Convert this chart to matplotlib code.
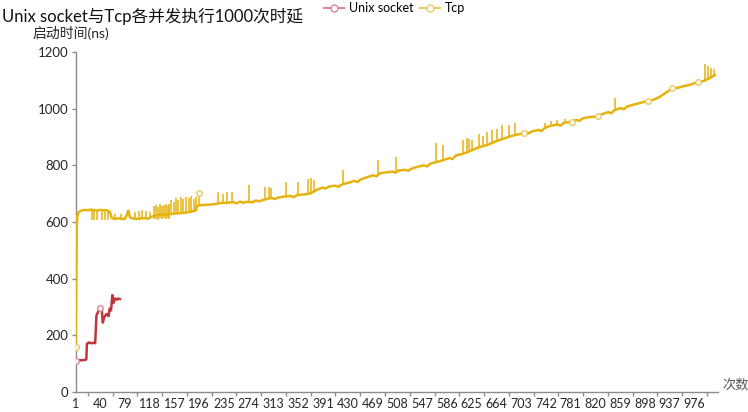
import matplotlib.pyplot as plt
from matplotlib.lines import Line2D

plt.rcParams['font.family'] = ['Lato', 'Noto Sans CJK SC', 'DejaVu Sans']

# Unix socket: only the first ~70 runs are visible
unix_x = [1, 5, 10, 15, 18, 19, 22, 26, 30, 32, 34, 37, 40, 42, 44, 46, 48, 50, 53, 55, 57, 59, 61, 63, 66, 68, 71]
unix_y = [110, 112, 112, 113, 115, 170, 175, 172, 174, 172, 270, 285, 298, 300, 245, 262, 270, 275, 268, 295, 288, 342, 315, 330, 326, 330, 328]

# Tcp baseline
tcp_x = [1, 2, 3, 4, 6, 10, 15, 20, 25, 30, 35, 40, 45, 50, 55, 58, 62, 70, 78, 82,
         84, 87, 92, 100, 108, 116, 122, 130, 140, 150, 160, 170, 180, 190, 193, 200, 210, 220, 230, 240,
         250, 255, 260, 265, 270, 280, 285, 290, 300, 310, 315, 320, 330, 340, 345, 350, 360, 370, 380, 390,
         395, 400, 410, 415, 420, 430, 440, 445, 450, 460, 470, 475, 480, 490, 500, 505, 510, 520, 525, 530,
         540, 550, 555, 560, 570, 580, 590, 595, 600, 610, 620, 630, 640, 650, 660, 670, 680, 690, 700, 707,
         710, 715, 720, 730, 735, 740, 750, 760, 765, 770, 783, 790, 795, 800, 810, 824, 830, 840, 845, 850,
         860, 865, 870, 880, 890, 903, 910, 920, 930, 941, 950, 960, 970, 982, 990, 1000, 1008]
tcp_y = [160, 350, 590, 622, 635, 640, 643, 641, 644, 642, 640, 643, 641, 642, 636, 615, 611, 613, 610, 625,
         640, 616, 612, 611, 614, 612, 620, 624, 626, 628, 630, 632, 635, 640, 658, 660, 661, 663, 667, 668,
         670, 666, 672, 668, 671, 670, 676, 673, 680, 685, 681, 686, 690, 692, 688, 695, 697, 700, 712, 722,
         718, 725, 728, 724, 732, 738, 745, 741, 750, 758, 765, 761, 772, 775, 778, 774, 782, 784, 781, 788,
         795, 800, 796, 806, 812, 818, 826, 822, 835, 840, 848, 858, 866, 872, 882, 890, 898, 905, 910, 914,
         916, 913, 920, 925, 921, 932, 940, 944, 940, 950, 954, 960, 957, 966, 970, 973, 980, 988, 984, 995,
         1002, 998, 1008, 1014, 1020, 1028, 1030, 1040, 1055, 1072, 1074, 1080, 1085, 1095, 1097, 1108, 1118]

# Tcp single-run spikes (run, low, high)
spike_x = [27, 30, 35, 43, 48, 52,
           64, 72, 95, 101, 106, 112, 118,
           125, 128, 131, 134, 137, 140, 143, 146, 149,
           152, 156, 160, 163, 167, 171, 175, 179, 183, 187, 191,
           195, 226, 233, 240, 247, 274, 300, 305, 309, 332, 351, 367, 372, 377,
           423, 478, 506, 569, 580, 612, 617, 621, 625,
           636, 643, 649, 657, 665, 673, 684, 693,
           740, 750, 760, 772, 850, 993, 997, 1002, 1006]
spike_lo = [607, 607, 607, 607, 607, 607,
            612, 612, 611, 611, 613, 613, 613,
            610, 612, 608, 614, 609, 613, 610, 615, 611,
            628, 629, 630, 630, 631, 632, 633, 634, 636, 637, 639,
            660, 663, 667, 668, 669, 672, 680, 682, 685, 690, 695, 699, 702, 708,
            734, 770, 780, 811, 818, 841, 846, 849, 853,
            862, 868, 871, 879, 886, 892, 901, 907,
            932, 940, 944, 951, 998, 1096, 1100, 1110, 1116]
spike_hi = [642, 642, 642, 642, 642, 642,
            630, 628, 635, 640, 642, 640, 636,
            655, 660, 652, 662, 658, 660, 663, 658, 664,
            678, 672, 684, 676, 688, 680, 690, 684, 692, 682, 688,
            703, 706, 700, 706, 705, 730, 722, 725, 720, 740, 740, 752, 755, 750,
            783, 819, 830, 878, 873, 890, 896, 893, 890,
            910, 905, 918, 925, 930, 942, 942, 950,
            950, 955, 960, 965, 1037, 1158, 1150, 1143, 1140]

unix_mark_x = [1, 40]
unix_mark_y = [110, 298]
tcp_mark_x = [1, 195, 707, 783, 824, 903, 941, 982]
tcp_mark_y = [160, 703, 914, 954, 973, 1028, 1072, 1095]

x_labels = [1, 40, 79, 118, 157, 196, 235, 274, 313, 352, 391, 430, 469, 508,
            547, 586, 625, 664, 703, 742, 781, 820, 859, 898, 937, 976]
y_ticks = [0, 200, 400, 600, 800, 1000, 1200]

tcp_color = '#E5B20E'
unix_color = '#C0353C'
axis_color = '#8C8C8C'
text_color = '#262626'

fig = plt.figure(figsize=(7.48, 4.12), dpi=100)
ax = fig.add_axes([75.5 / 748, 20 / 412, 642.5 / 748, 340 / 412])

ax.plot(tcp_x, tcp_y, color=tcp_color, lw=1.8, solid_joinstyle='round', zorder=3)
ax.vlines(spike_x, spike_lo, spike_hi, color=tcp_color, lw=1.1, zorder=3)
ax.plot(unix_x, unix_y, color=unix_color, lw=1.8, solid_joinstyle='round', zorder=3)
ax.plot(tcp_mark_x, tcp_mark_y, 'o', ms=4, mfc='white', mec='#E8C866', mew=1, zorder=4)
ax.plot(unix_mark_x, unix_mark_y, 'o', ms=4, mfc='white', mec='#D98A92', mew=1, zorder=4)

ax.set_xlim(1, 1013)
ax.set_ylim(0, 1200)
ax.set_xticks(x_labels)
ax.set_xticklabels([str(v) for v in x_labels])
ax.set_xticks([v + 19.5 for v in x_labels], minor=True)
ax.set_yticks(y_ticks)

for side in ['top', 'right']:
    ax.spines[side].set_visible(False)
for side in ['left', 'bottom']:
    ax.spines[side].set_color(axis_color)
    ax.spines[side].set_linewidth(1.0)

ax.tick_params(axis='x', which='major', length=0, pad=4, labelsize=9, labelcolor=text_color)
ax.tick_params(axis='x', which='minor', length=3, width=1, color=axis_color, direction='out')
ax.tick_params(axis='y', length=3, width=1, color=axis_color, pad=2, labelsize=9.5, labelcolor=text_color)

fig.text(0.003, 1 - 16 / 412, 'Unix socket与Tcp各并发执行1000次时延', fontsize=12,
         ha='left', va='center', color='#111111')
fig.text(33 / 748, 1 - 33 / 412, '启动时间(ns)', fontsize=10, ha='left', va='center', color=text_color)
fig.text(722 / 748, 1 - 384 / 412, '次数', fontsize=9.5, ha='left', va='center', color='#555555')

handles = [
    Line2D([], [], color='#D98A92', lw=1.5, marker='o', ms=5, mfc='white', mec='#D98A92'),
    Line2D([], [], color='#E8CC5E', lw=1.5, marker='o', ms=5, mfc='white', mec='#E8CC5E'),
]
fig.legend(handles, ['Unix socket', 'Tcp'], loc='center left', bbox_to_anchor=(324 / 748, 1 - 8 / 412),
           ncol=2, frameon=False, fontsize=9, handlelength=1.6, handletextpad=0.4,
           columnspacing=0.5, borderpad=0, borderaxespad=0)

fig.savefig('out.png', dpi=100)
